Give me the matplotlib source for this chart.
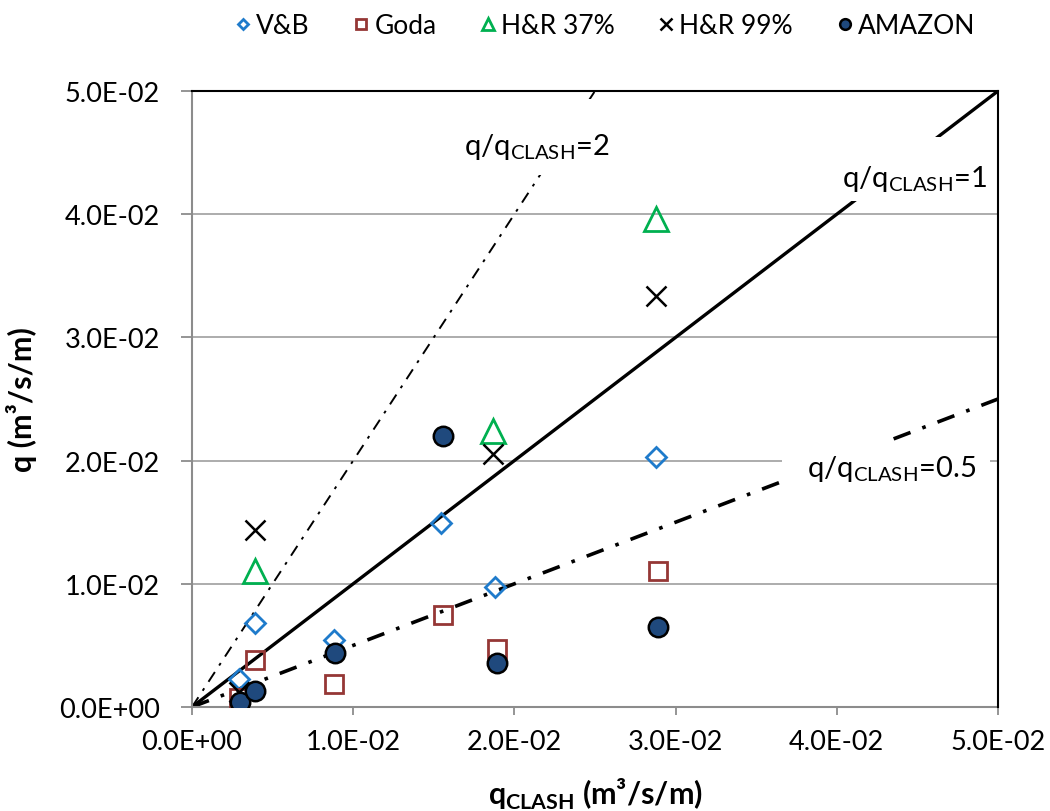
import matplotlib
matplotlib.use("Agg")
import matplotlib.pyplot as plt
from matplotlib.ticker import FuncFormatter
from matplotlib.patches import Rectangle

plt.rcParams['font.family'] = ['Lato', 'DejaVu Sans']
plt.rcParams['mathtext.fontset'] = 'custom'
plt.rcParams['mathtext.rm'] = 'Lato'
plt.rcParams['mathtext.bf'] = 'Lato:bold'

# ---- data (m3/s/m) ----
vb_x   = [0.0029, 0.0039, 0.0088, 0.01545, 0.0188, 0.0288]
vb_y   = [0.0023, 0.0068, 0.0054, 0.0149, 0.0097, 0.0203]
goda_x = [0.0029, 0.0039, 0.0088, 0.01555, 0.0189, 0.0289]
goda_y = [0.0007, 0.0038, 0.0019, 0.0075, 0.0047, 0.0110]
hr37_x = [0.0029, 0.0039, 0.0187, 0.0288]
hr37_y = [0.0002, 0.0110, 0.0224, 0.0396]
hr99_x = [0.0029, 0.0039, 0.0187, 0.0288]
hr99_y = [0.0012, 0.0144, 0.0205, 0.0334]
amz_x  = [0.0030, 0.0039, 0.00885, 0.01555, 0.0189, 0.0289]
amz_y  = [0.0004, 0.0013, 0.0044, 0.0220, 0.0036, 0.0065]

ratios = [2, 1, 0.5]
ratio_labels = ['2', '1', '0.5']
ticks = [0.0, 0.01, 0.02, 0.03, 0.04, 0.05]
lim = 0.05

fig = plt.figure(figsize=(10.5, 8.12), dpi=100)
ax = fig.add_axes([192/1050, 1-708/812, (998-192)/1050, (708-92)/812])
ax.set_xlim(0, lim)
ax.set_ylim(0, lim)

# gridlines
ax.yaxis.grid(True, color='#A6A6A6', linewidth=1.3, zorder=0)
ax.set_axisbelow(True)

# ratio lines
styles = {
    2:   dict(color='black', linewidth=1.4, linestyle=(0, (6, 4, 1.5, 4)), zorder=2),
    1:   dict(color='black', linewidth=2.4, linestyle='-', zorder=2),
    0.5: dict(color='black', linewidth=2.6, linestyle=(0, (5, 3.5, 1, 3.5)), zorder=2),
}
for r in ratios:
    xe = min(lim, lim / r)
    ax.plot([0, xe], [0, r * xe], **styles[r])

# white label boxes (axes-fraction geometry: x0, y0, w, h) and label text positions
boxes = {2: (0.3127, 0.8636, 0.2258, 0.1234),
         1: (0.8127, 0.8214, 0.1873, 0.1039),
         0.5: (0.7320, 0.3474, 0.2580, 0.0844)}
text_pos = {2: (0.3375, 0.9110), 1: (0.8060, 0.8580), 0.5: (0.7630, 0.3880)}
for r, lab in zip(ratios, ratio_labels):
    bx, by, bw, bh = boxes[r]
    ax.add_patch(Rectangle((bx, by), bw, bh, transform=ax.transAxes, facecolor='white',
                           edgecolor='none', zorder=3))
    tx, ty = text_pos[r]
    ax.text(tx, ty, r'q/q$_{\mathrm{CLASH}}$=' + lab, fontsize=21, ha='left', va='center',
            transform=ax.transAxes, zorder=3.5)

# series
h1, = ax.plot(vb_x, vb_y, linestyle='none', marker='D', ms=10, mfc='none', mec='#1F7BCB', mew=2.0, zorder=4, label='V&B')
h2, = ax.plot(goda_x, goda_y, linestyle='none', marker='s', ms=13, mfc='none', mec='#953735', mew=2.0, zorder=4, label='Goda')
h3, = ax.plot(hr37_x, hr37_y, linestyle='none', marker='^', ms=17, mfc='none', mec='#00B050', mew=2.0, zorder=4, label='H&R 37%')
h4, = ax.plot(hr99_x, hr99_y, linestyle='none', marker='x', ms=15, mfc='none', mec='black', mew=1.8, zorder=4, label='H&R 99%')
h5, = ax.plot(amz_x, amz_y, linestyle='none', marker='o', ms=14, mfc='#1F497D', mec='black', mew=1.8, zorder=5, label='AMAZON')

# axes styling
ax.set_xticks(ticks)
ax.set_yticks(ticks)
fmt = FuncFormatter(lambda v, p: '{:.1E}'.format(v))
ax.xaxis.set_major_formatter(fmt)
ax.yaxis.set_major_formatter(fmt)
ax.tick_params(axis='both', direction='out', width=1.3, color='#8C8C8C',
               labelsize=19.5, labelcolor='black')
ax.tick_params(axis='x', length=5.5, pad=10)
ax.tick_params(axis='y', length=8, pad=15)
for s in ['left', 'bottom']:
    ax.spines[s].set_color('#8C8C8C')
    ax.spines[s].set_linewidth(1.5)
for s in ['top', 'right']:
    ax.spines[s].set_color('black')
    ax.spines[s].set_linewidth(1.5)
ax.spines['top'].set_zorder(6)
ax.spines['right'].set_zorder(6)

ax.set_xlabel(r'$\mathbf{q}_{\mathbf{CLASH}}$ (m³/s/m)', fontsize=22, fontweight='bold', labelpad=16)
ax.set_ylabel('q (m³/s/m)', fontsize=22, fontweight='bold', labelpad=16)

leg = fig.legend(handles=[h1, h2, h3, h4, h5], loc='center', bbox_to_anchor=(603/1050, 1-27/812),
                 ncol=5, frameon=False, fontsize=19, markerscale=0.55, handletextpad=0.05,
                 columnspacing=1.5, handlelength=0.9)

fig.savefig('out.png', dpi=100)
